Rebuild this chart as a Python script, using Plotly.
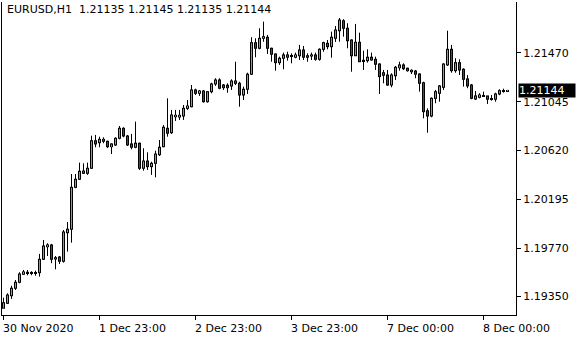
import plotly.graph_objects as go

bars = list(range(127))

opens = [1.19247, 1.19290, 1.19356, 1.19421, 1.19473, 1.19543, 1.19557, 1.19558, 1.19558, 1.19557,
         1.19673, 1.19783, 1.19798, 1.19687, 1.19693, 1.19656, 1.19905, 1.19935, 1.20300, 1.20370,
         1.20442, 1.20422, 1.20466, 1.20706, 1.20689, 1.20718, 1.20701, 1.20654, 1.20669, 1.20727,
         1.20814, 1.20747, 1.20678, 1.20649, 1.20684, 1.20466, 1.20529, 1.20480, 1.20509, 1.20584,
         1.20654, 1.20814, 1.20776, 1.20915, 1.20913, 1.20921, 1.20988, 1.21002, 1.21148, 1.21119,
         1.21139, 1.21046, 1.21133, 1.21200, 1.21235, 1.21191, 1.21189, 1.21183, 1.21226, 1.21206,
         1.21104, 1.21154, 1.21285, 1.21560, 1.21511, 1.21598, 1.21607, 1.21511, 1.21461, 1.21386,
         1.21424, 1.21453, 1.21446, 1.21433, 1.21446, 1.21496, 1.21446, 1.21453, 1.21453, 1.21415,
         1.21502, 1.21554, 1.21525, 1.21598, 1.21664, 1.21751, 1.21685, 1.21583, 1.21446, 1.21563,
         1.21406, 1.21403, 1.21433, 1.21415, 1.21374, 1.21298, 1.21278, 1.21191, 1.21272, 1.21342,
         1.21366, 1.21337, 1.21319, 1.21313, 1.21287, 1.21211, 1.20967, 1.20921, 1.21075, 1.21119,
         1.21171, 1.21366, 1.21502, 1.21316, 1.21386, 1.21328, 1.21244, 1.21191, 1.21069, 1.21084,
         1.21095, 1.21096, 1.21072, 1.21067, 1.21113, 1.21140, 1.21135]

highs = [1.19339, 1.19377, 1.19443, 1.19493, 1.19560, 1.19580, 1.19580, 1.19569, 1.19574, 1.19720,
         1.19841, 1.19813, 1.19807, 1.19702, 1.19702, 1.19928, 1.19998, 1.20416, 1.20416, 1.20515,
         1.20509, 1.20515, 1.20750, 1.20756, 1.20741, 1.20736, 1.20706, 1.20684, 1.20736, 1.20834,
         1.20823, 1.20756, 1.20765, 1.20872, 1.20689, 1.20640, 1.20605, 1.20523, 1.20619, 1.20712,
         1.20843, 1.21075, 1.20974, 1.20974, 1.20974, 1.21017, 1.21061, 1.21191, 1.21159, 1.21148,
         1.21148, 1.21139, 1.21211, 1.21250, 1.21250, 1.21200, 1.21206, 1.21241, 1.21394, 1.21220,
         1.21177, 1.21298, 1.21607, 1.21598, 1.21685, 1.21743, 1.21627, 1.21516, 1.21467, 1.21438,
         1.21473, 1.21481, 1.21467, 1.21473, 1.21540, 1.21531, 1.21467, 1.21473, 1.21473, 1.21511,
         1.21568, 1.21583, 1.21656, 1.21705, 1.21775, 1.21764, 1.21729, 1.21589, 1.21723, 1.21647,
         1.21490, 1.21502, 1.21473, 1.21438, 1.21380, 1.21322, 1.21322, 1.21293, 1.21357, 1.21394,
         1.21380, 1.21342, 1.21328, 1.21322, 1.21293, 1.21220, 1.20988, 1.21084, 1.21148, 1.21191,
         1.21380, 1.21664, 1.21540, 1.21424, 1.21415, 1.21337, 1.21278, 1.21200, 1.21139, 1.21119,
         1.21133, 1.21096, 1.21104, 1.21124, 1.21154, 1.21159, 1.21145]

lows = [1.19247, 1.19284, 1.19328, 1.19406, 1.19464, 1.19537, 1.19534, 1.19534, 1.19530, 1.19522,
        1.19667, 1.19702, 1.19639, 1.19586, 1.19632, 1.19644, 1.19740, 1.19818, 1.20292, 1.20364,
        1.20416, 1.20408, 1.20460, 1.20649, 1.20649, 1.20684, 1.20643, 1.20590, 1.20660, 1.20718,
        1.20736, 1.20660, 1.20631, 1.20640, 1.20451, 1.20445, 1.20451, 1.20408, 1.20387, 1.20573,
        1.20649, 1.20741, 1.20765, 1.20878, 1.20887, 1.20887, 1.20974, 1.20997, 1.21104, 1.21096,
        1.21037, 1.21037, 1.21119, 1.21183, 1.21154, 1.21148, 1.21124, 1.21148, 1.21191, 1.21002,
        1.21061, 1.21113, 1.21278, 1.21433, 1.21502, 1.21568, 1.21461, 1.21394, 1.21316, 1.21366,
        1.21328, 1.21403, 1.21380, 1.21424, 1.21409, 1.21409, 1.21394, 1.21409, 1.21403, 1.21403,
        1.21481, 1.21502, 1.21429, 1.21566, 1.21568, 1.21612, 1.21511, 1.21307, 1.21444, 1.21392,
        1.21322, 1.21386, 1.21403, 1.21322, 1.21113, 1.21206, 1.21183, 1.21171, 1.21235, 1.21316,
        1.21322, 1.21307, 1.21287, 1.21250, 1.21133, 1.20901, 1.20776, 1.20910, 1.21032, 1.21046,
        1.21148, 1.21357, 1.21298, 1.21298, 1.21278, 1.21177, 1.21163, 1.21067, 1.21061, 1.21075,
        1.21089, 1.21026, 1.21055, 1.21046, 1.21102, 1.21124, 1.21135]

closes = [1.19295, 1.19362, 1.19421, 1.19473, 1.19545, 1.19563, 1.19560, 1.19559, 1.19557, 1.19673,
          1.19789, 1.19798, 1.19673, 1.19676, 1.19656, 1.19911, 1.19935, 1.20300, 1.20370, 1.20440,
          1.20422, 1.20466, 1.20706, 1.20678, 1.20718, 1.20701, 1.20654, 1.20678, 1.20727, 1.20814,
          1.20747, 1.20669, 1.20649, 1.20684, 1.20466, 1.20529, 1.20480, 1.20509, 1.20590, 1.20649,
          1.20823, 1.20771, 1.20930, 1.20927, 1.20927, 1.20988, 1.21008, 1.21148, 1.21119, 1.21139,
          1.21046, 1.21133, 1.21200, 1.21235, 1.21163, 1.21168, 1.21168, 1.21226, 1.21206, 1.21104,
          1.21154, 1.21285, 1.21560, 1.21511, 1.21598, 1.21612, 1.21511, 1.21459, 1.21386, 1.21424,
          1.21453, 1.21433, 1.21444, 1.21453, 1.21496, 1.21433, 1.21433, 1.21444, 1.21415, 1.21502,
          1.21560, 1.21525, 1.21607, 1.21670, 1.21757, 1.21685, 1.21577, 1.21446, 1.21563, 1.21394,
          1.21400, 1.21433, 1.21409, 1.21372, 1.21264, 1.21276, 1.21191, 1.21278, 1.21345, 1.21366,
          1.21333, 1.21316, 1.21307, 1.21285, 1.21206, 1.20959, 1.20921, 1.21075, 1.21133, 1.21183,
          1.21374, 1.21502, 1.21316, 1.21386, 1.21322, 1.21241, 1.21183, 1.21075, 1.21096, 1.21104,
          1.21096, 1.21067, 1.21067, 1.21113, 1.21142, 1.21135, 1.21144]

price_ticks = [1.19350, 1.19770, 1.20195, 1.20620, 1.21045, 1.21470]
price_tick_text = ["1.19350", "1.19770", "1.20195", "1.20620", "1.21045", "1.21470"]
time_tick_bars = [0, 24, 48, 72, 96, 120]
time_tick_text = ["30 Nov 2020", "1 Dec 23:00", "2 Dec 23:00", "3 Dec 23:00", "7 Dec 00:00", "8 Dec 00:00"]
header_text = "EURUSD,H1  1.21135 1.21145 1.21135 1.21144"
last_price_text = "1.21144"

FONT = "DejaVu Sans"
BULL = "#00ff00"
BEAR = "#ff0000"
Y_RANGE = [1.19188, 1.21914]
PLOT_H = 313
PX = (Y_RANGE[1] - Y_RANGE[0]) / PLOT_H   # one screen pixel in price units

# bodies (open-close)
body_base = [min(o, c) for o, c in zip(opens, closes)]
body_top = [max(o, c) for o, c in zip(opens, closes)]
body_col = [BULL if c > o else BEAR for o, c in zip(opens, closes)]
# outer (black outline) body: at least one pixel high
outer_base = [b - 0.5 * PX for b in body_base]
outer_len = [t - b + PX for b, t in zip(body_base, body_top)]
# inner coloured fill
inner_base = [b + 0.5 * PX for b in body_base]
inner_len = [max(t - b - PX, 0) for b, t in zip(body_base, body_top)]

# wicks: low -> body bottom, body top -> high
wx, wy = [], []
for b, h, l, lo_b, hi_b in zip(bars, highs, lows, body_base, body_top):
    wx += [b, b, None, b, b, None]
    wy += [l, lo_b, None, hi_b, h, None]

fig = go.Figure()
fig.add_trace(go.Bar(x=bars, y=outer_len, base=outer_base, width=0.75,
                     marker=dict(color="black", line=dict(width=0)),
                     hoverinfo="skip", showlegend=False))
fig.add_trace(go.Bar(x=bars, y=inner_len, base=inner_base, width=0.25,
                     marker=dict(color=body_col, line=dict(width=0)),
                     hoverinfo="skip", showlegend=False))
fig.add_trace(go.Scatter(x=wx, y=wy, mode="lines", line=dict(color="black", width=1),
                         hoverinfo="skip", showlegend=False))

annotations = []
for b, t in zip(time_tick_bars, time_tick_text):
    annotations.append(dict(x=b, xref="x", y=0, yref="paper", yanchor="top", xanchor="left",
                            text=t, showarrow=False, xshift=-3, yshift=-5,
                            font=dict(family=FONT, size=11, color="black")))
annotations.append(dict(x=0, xref="paper", y=1, yref="paper", xanchor="left", yanchor="top",
                        text=header_text, showarrow=False, xshift=3, yshift=1,
                        font=dict(family=FONT, size=11, color="black")))
annotations.append(dict(x=1, xref="paper", y=float(last_price_text), yref="y", xanchor="left",
                        yanchor="middle", text=last_price_text, showarrow=False, xshift=2,
                        bgcolor="black", borderpad=0, width=56, align="left",
                        font=dict(family=FONT, size=11, color="white")))

fig.update_layout(
    width=580, height=340,
    margin=dict(l=2, r=64, t=2, b=25),
    paper_bgcolor="white", plot_bgcolor="white",
    barmode="overlay",
    annotations=annotations,
    xaxis=dict(range=[-0.375, 128.125],
               showgrid=False, zeroline=False, showline=True, linecolor="black", linewidth=1,
               tickvals=time_tick_bars, ticks="outside", ticklen=4, tickcolor="black",
               showticklabels=False, fixedrange=True),
    yaxis=dict(range=Y_RANGE, side="right", showgrid=False, zeroline=False,
               showline=True, mirror=True, linecolor="black", linewidth=1,
               tickvals=price_ticks, ticktext=price_tick_text, ticks="outside", ticklen=4,
               tickcolor="black", tickfont=dict(family=FONT, size=11, color="black")),
)

fig.write_html("out.html", config={"displayModeBar": False})
